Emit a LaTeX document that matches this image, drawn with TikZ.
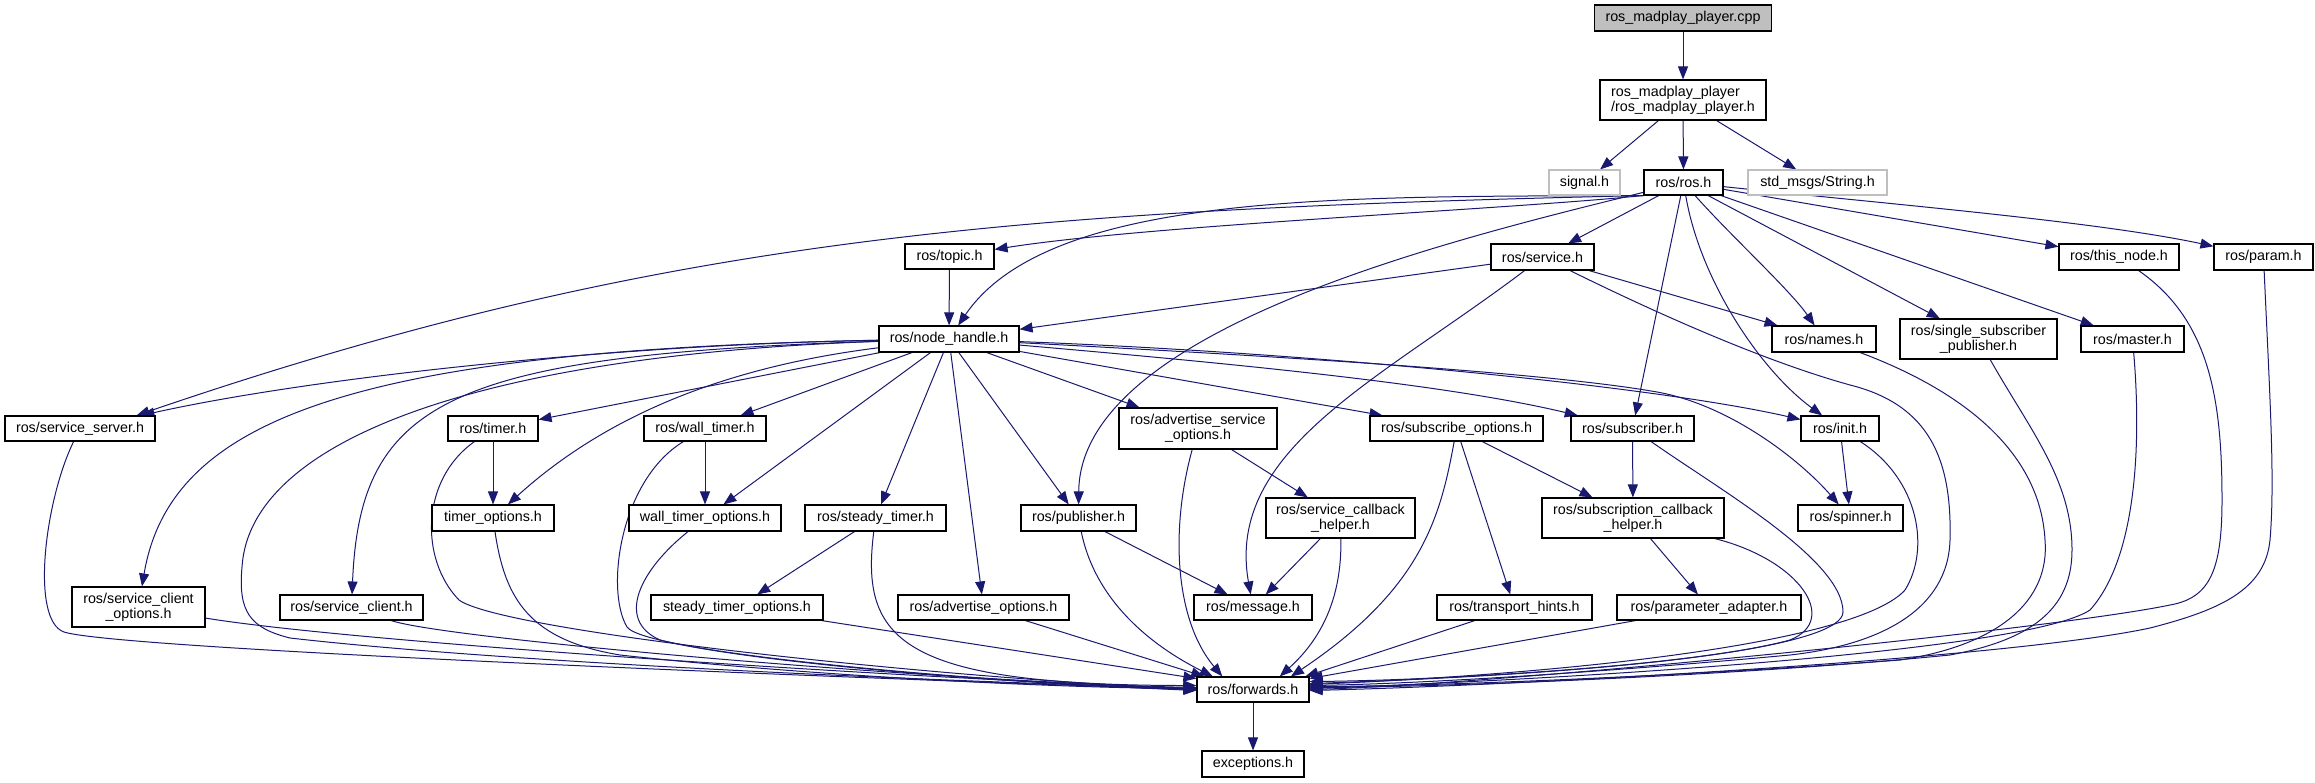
\documentclass[tikz,border=0pt]{standalone}
\usepackage{fontspec}
\newfontfamily\hfont{Liberation Sans}
\usetikzlibrary{arrows.meta,backgrounds}
\definecolor{edgeblue}{RGB}{25,25,112}
\definecolor{lgray}{RGB}{191,191,191}
\tikzset{
  nd/.style={draw=black, line width=1.1pt, fill=white, inner sep=0pt, align=center,
    font={\hfont\fontsize{14.3}{14.8}\selectfont}},
  gnd/.style={nd, draw=lgray},
  sz/.style 2 args={minimum width=#1pt, minimum height=#2pt},
  e/.style={draw=edgeblue, line width=1pt, -{Triangle[length=13pt,width=10pt]}}
}
\begin{document}
\begin{tikzpicture}[x=1pt,y=-1pt]
\useasboundingbox (0,0) rectangle (2315,783);

% nodes
\node[nd, fill=lgray, sz={177}{26}] (cpp) at (1683,18) {ros\_madplay\_player.cpp};
\node[nd, sz={166}{40}, align=left] (rmp) at (1683,100) {ros\_madplay\_player\\/ros\_madplay\_player.h};
\node[gnd, sz={71}{25}] (signal) at (1584.5,182.5) {signal.h};
\node[nd, sz={79}{25}] (rosh) at (1683.5,182.5) {ros/ros.h};
\node[gnd, sz={139}{25}] (stdstr) at (1817.5,182.5) {std\_msgs/String.h};
\node[nd, sz={89}{25}] (topic) at (949.5,256.5) {ros/topic.h};
\node[nd, sz={103}{26}] (service) at (1542.5,257) {ros/service.h};
\node[nd, sz={120}{26}] (thisnode) at (2119,257) {ros/this\_node.h};
\node[nd, sz={99}{26}] (param) at (2263.5,257) {ros/param.h};
\node[nd, sz={140}{26}] (nh) at (949,339) {ros/node\_handle.h};
\node[nd, sz={104}{26}] (names) at (1824,339) {ros/names.h};
\node[nd, sz={157}{40}] (ssp) at (1978.5,339) {ros/single\_subscriber\\\_publisher.h};
\node[nd, sz={103}{26}] (master) at (2132.5,339) {ros/master.h};
\node[nd, sz={150}{25}] (sserver) at (80,428.5) {ros/service\_server.h};
\node[nd, sz={90}{25}] (timer) at (493,428.5) {ros/timer.h};
\node[nd, sz={122}{25}] (wtimer) at (705,428.5) {ros/wall\_timer.h};
\node[nd, sz={158}{41}] (aso) at (1198,428.5) {ros/advertise\_service\\\_options.h};
\node[nd, sz={173}{25}] (subopt) at (1456.5,428.5) {ros/subscribe\_options.h};
\node[nd, sz={123}{25}] (subscriber) at (1632.5,428.5) {ros/subscriber.h};
\node[nd, sz={78}{25}] (init) at (1840,428.5) {ros/init.h};
\node[nd, sz={149}{40}] (scbh) at (1340.5,518) {ros/service\_callback\\\_helper.h};
\node[nd, sz={182}{40}] (subcbh) at (1633,518) {ros/subscription\_callback\\\_helper.h};
\node[nd, sz={122}{26}] (topt) at (493,518) {timer\_options.h};
\node[nd, sz={152}{26}] (wtopt) at (705,518) {wall\_timer\_options.h};
\node[nd, sz={141}{26}] (stimer) at (875.5,518) {ros/steady\_timer.h};
\node[nd, sz={115}{26}] (pub) at (1078.5,518) {ros/publisher.h};
\node[nd, sz={105}{26}] (spinner) at (1850.5,518) {ros/spinner.h};
\node[nd, sz={133}{40}] (scopt) at (138.5,607) {ros/service\_client\\\_options.h};
\node[nd, sz={143}{25}] (sclient) at (351.5,607.5) {ros/service\_client.h};
\node[nd, sz={172}{25}] (stopt) at (737,607.5) {steady\_timer\_options.h};
\node[nd, sz={171}{25}] (advopt) at (983.5,607.5) {ros/advertise\_options.h};
\node[nd, sz={118}{25}] (msg) at (1253,607.5) {ros/message.h};
\node[nd, sz={155}{25}] (thints) at (1514.5,607.5) {ros/transport\_hints.h};
\node[nd, sz={184}{25}] (padapt) at (1709,607.5) {ros/parameter\_adapter.h};
\node[nd, sz={112}{25}] (fwd) at (1253,689.5) {ros/forwards.h};
\node[nd, sz={102}{26}] (exc) at (1253,764) {exceptions.h};

\begin{pgfonlayer}{background}
\fill[white] (0,0) rectangle (2315,783);
% edges
\draw[e] (cpp) -- (rmp);
\draw[e] (rmp) -- (signal);
\draw[e] (rmp) -- (rosh);
\draw[e] (rmp) -- (stdstr);

\draw[e] (rosh.south west) .. controls (1500,210) and (1150,225) .. (topic);
\draw[e] (rosh.south west) .. controls (1000,210) and (650,240) .. (sserver.13);
\draw[e] (rosh.south west) .. controls (1350,197) and (1050,190) .. (nh);
\draw[e] (rosh) -- (service);
\draw[e] (rosh) .. controls (1450,240) and (1080,330) .. (pub);
\draw[e] (rosh) .. controls (1730,235) and (1790,290) .. (names);
\draw[e] (rosh) -- (ssp);
\draw[e] (rosh) -- (master);
\draw[e] (rosh) -- (subscriber);
\draw[e] (rosh) .. controls (1700,280) and (1760,370) .. (init);
\draw[e] (rosh) -- (thisnode);
\draw[e] (rosh) .. controls (1900,205) and (2100,222) .. (param);

\draw[e] (topic) -- (nh);
\draw[e] (service) -- (nh);
\draw[e] (service) -- (names);
\draw[e] (service) .. controls (1380,380) and (1225,450) .. (msg);
\draw[e] (service) .. controls (1650,310) and (1760,360) .. (1850,385)
  .. controls (1930,405) and (1952,460) .. (1950,540)
  .. controls (1948,610) and (1880,645) .. (1790,655)
  .. controls (1650,668) and (1450,683) .. (fwd.4);

\draw[e] (nh) .. controls (600,345) and (300,380) .. (sserver.12);
\draw[e] (nh) .. controls (350,350) and (170,420) .. (scopt);
\draw[e] (nh) .. controls (480,355) and (250,440) .. (242,567)
  .. controls (238,612) and (250,628) .. (290,638)
  .. controls (500,662) and (900,680) .. (fwd.179);
\draw[e] (nh) .. controls (450,355) and (360,400) .. (sclient);
\draw[e] (nh) -- (timer);
\draw[e] (nh) .. controls (700,370) and (590,430) .. (topt);
\draw[e] (nh) -- (wtimer);
\draw[e] (nh) -- (wtopt);
\draw[e] (nh) -- (stimer);
\draw[e] (nh) -- (advopt);
\draw[e] (nh) -- (pub);
\draw[e] (nh) -- (aso);
\draw[e] (nh) -- (subopt);
\draw[e] (nh) .. controls (1250,365) and (1450,385) .. (subscriber);
\draw[e] (nh) .. controls (1300,352) and (1650,385) .. (init);
\draw[e] (nh) .. controls (1350,360) and (1560,375) .. (1657,392)
  .. controls (1730,405) and (1800,460) .. (spinner);

\draw[e] (sserver) .. controls (45,500) and (30,620) .. (64,632)
  .. controls (120,650) and (900,680) .. (fwd.180);
\draw[e] (scopt) .. controls (350,642) and (900,678) .. (fwd.179);
\draw[e] (sclient) .. controls (450,640) and (950,682) .. (fwd.178);

\draw[e] (timer) -- (topt);
\draw[e] (timer) .. controls (420,480) and (420,560) .. (459,600)
  .. controls (500,630) and (900,675) .. (fwd.180);
\draw[e] (wtimer) -- (wtopt);
\draw[e] (wtimer) .. controls (620,480) and (605,590) .. (627,627)
  .. controls (645,652) and (950,680) .. (fwd.181);
\draw[e] (topt) .. controls (505,600) and (530,640) .. (620,655)
  .. controls (800,675) and (1050,688) .. (fwd.179);
\draw[e] (wtopt) .. controls (640,570) and (615,620) .. (660,640)
  .. controls (760,665) and (1050,686) .. (fwd.180);

\draw[e] (stimer) -- (stopt);
\draw[e] (stimer) .. controls (860,640) and (900,685) .. (fwd.176);
\draw[e] (stopt) -- (fwd.169);
\draw[e] (advopt) -- (fwd.165);
\draw[e] (pub) -- (msg);
\draw[e] (pub) .. controls (1095,600) and (1150,645) .. (fwd.162);
\draw[e] (aso) -- (scbh);
\draw[e] (aso) .. controls (1170,530) and (1175,620) .. (fwd.157);
\draw[e] (scbh) -- (msg);
\draw[e] (scbh) .. controls (1342,600) and (1320,640) .. (fwd.26);
\draw[e] (subopt) -- (subcbh);
\draw[e] (subopt) -- (thints);
\draw[e] (subopt) .. controls (1440,520) and (1420,590) .. (fwd.19);
\draw[e] (thints) -- (fwd.14);
\draw[e] (padapt) -- (fwd.11);
\draw[e] (subcbh) -- (padapt);
\draw[e] (subcbh) .. controls (1800,560) and (1840,620) .. (1790,640)
  .. controls (1700,665) and (1450,680) .. (fwd.8);
\draw[e] (subscriber) -- (subcbh);
\draw[e] (subscriber) .. controls (1720,490) and (1843,560) .. (1843,612)
  .. controls (1843,645) and (1650,672) .. (fwd.6);
\draw[e] (init) -- (spinner);
\draw[e] (init) .. controls (1920,480) and (1930,550) .. (1905,590)
  .. controls (1860,640) and (1600,672) .. (fwd.5);
\draw[e] (names) .. controls (1960,390) and (2040,450) .. (2045,540)
  .. controls (2050,600) and (2000,645) .. (1900,660)
  .. controls (1700,675) and (1450,686) .. (fwd.3);
\draw[e] (ssp) .. controls (2030,430) and (2072,480) .. (2072,550)
  .. controls (2072,610) and (2030,640) .. (1950,655)
  .. controls (1750,675) and (1450,687) .. (fwd.2);
\draw[e] (master) .. controls (2142,450) and (2135,560) .. (2090,610)
  .. controls (2030,650) and (1600,678) .. (fwd.1);
\draw[e] (thisnode) .. controls (2210,320) and (2222,400) .. (2222,500)
  .. controls (2222,570) and (2210,598) .. (2170,605)
  .. controls (2050,630) and (1500,684) .. (fwd.0);
\draw[e] (param) .. controls (2270,400) and (2275,480) .. (2270,540)
  .. controls (2265,590) and (2220,610) .. (2150,628)
  .. controls (2000,660) and (1500,686) .. (fwd.-1);
\draw[e] (fwd) -- (exc);
\end{pgfonlayer}
\end{tikzpicture}
\end{document}
